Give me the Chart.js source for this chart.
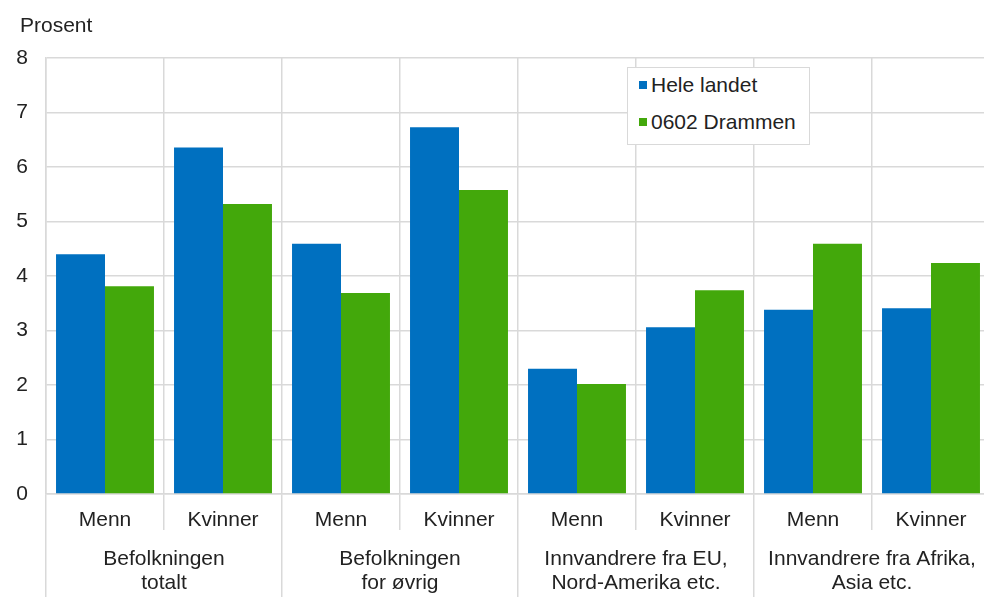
<!DOCTYPE html>
<html>
<head>
<meta charset="utf-8">
<script src="https://cdn.jsdelivr.net/npm/chart.js@4.4.1/dist/chart.umd.min.js"></script>
<style>
    html, body { margin: 0; padding: 0; background: #fff; overflow: hidden; }
    #wrap { position: relative; width: 1000px; height: 597px; }
    #ytitle {
        position: absolute; left: 20px; top: 12px; line-height: 26px;
        font-family: "Liberation Sans", Arial, sans-serif; font-size: 21px; color: #222;
    }
    #legend {
        position: absolute; left: 627px; top: 67px; width: 183px; height: 78px;
        border: 1px solid #d9d9d9; background: #fff; box-sizing: border-box;
        font-family: "Liberation Sans", Arial, sans-serif; font-size: 21px; color: #222;
    }
    #legend .item { position: absolute; left: 11px; display: flex; align-items: center; line-height: 24px; white-space: nowrap; }
    #legend .box { width: 8px; height: 8px; margin-right: 4px; }
</style>
</head>
<body>
<div id="wrap">
    <canvas id="chart" width="1000" height="597"></canvas>
    <div id="ytitle">Prosent</div>
    <div id="legend"></div>
</div>
<script>
// kategorier og verdier lest av figuren
const kjonn = ['Menn', 'Kvinner', 'Menn', 'Kvinner', 'Menn', 'Kvinner', 'Menn', 'Kvinner'];
const grupper = [
    ['Befolkningen', 'totalt'],
    ['Befolkningen', 'for øvrig'],
    ['Innvandrere fra EU,', 'Nord-Amerika etc.'],
    ['Innvandrere fra Afrika,', 'Asia etc.']
];
const seriesNames = ['Hele landet', '0602 Drammen'];
const heleLandet = [4.40, 6.36, 4.59, 6.73, 2.30, 3.06, 3.38, 3.41];
const drammen = [3.81, 5.32, 3.69, 5.58, 2.02, 3.74, 4.59, 4.24];
const yTicks = [0, 1, 2, 3, 4, 5, 6, 7, 8];

const colors = ['#0070c0', '#43a80b'];
const gridColor = '#d9d9d9';
const fontFamily = '"Liberation Sans", Arial, sans-serif';
const textColor = '#222';

const ctx = document.getElementById('chart').getContext('2d');
const chart = new Chart(ctx, {
    type: 'bar',
    data: {
        labels: kjonn,
        datasets: [
            { label: seriesNames[0], data: heleLandet, backgroundColor: colors[0] },
            { label: seriesNames[1], data: drammen, backgroundColor: colors[1] }
        ]
    },
    options: {
        responsive: false,
        animation: false,
        layout: { padding: { left: 0, right: 10, top: 58, bottom: 0 } },
        datasets: { bar: { categoryPercentage: 0.83, barPercentage: 1.0 } },
        plugins: {
            legend: { display: false },
            tooltip: { enabled: false }
        },
        scales: {
            y: {
                min: 0, max: 8,
                afterBuildTicks: (scale) => { scale.ticks = yTicks.map(v => ({ value: v })); },
                afterFit: (scale) => { scale.width = 46; },
                ticks: { color: textColor, padding: 18, font: { family: fontFamily, size: 21 } },
                grid: { color: gridColor, lineWidth: 1.5, drawTicks: false },
                border: { color: gridColor, width: 1.5 }
            },
            x: {
                weight: 0,
                afterFit: (scale) => { scale.height = 36; },
                ticks: { color: textColor, padding: -22, maxRotation: 0, autoSkip: false,
                         font: { family: fontFamily, size: 21 } },
                grid: { color: gridColor, lineWidth: 1.5, offset: true, tickLength: 36 },
                border: { color: gridColor, width: 1.5 }
            },
            x2: {
                type: 'category',
                position: 'bottom',
                weight: 1,
                labels: grupper,
                offset: true,
                afterFit: (scale) => { scale.height = 67; },
                ticks: { color: textColor, padding: -50, maxRotation: 0, autoSkip: false,
                         font: { family: fontFamily, size: 21, lineHeight: 24 / 21 } },
                grid: { color: gridColor, lineWidth: 1.5, offset: true, drawOnChartArea: false, tickLength: 67 },
                border: { display: false }
            }
        }
    }
});

// legendboks i plottområdet
const legendEl = document.getElementById('legend');
chart.data.datasets.forEach((ds, i) => {
    const item = document.createElement('div');
    item.className = 'item';
    item.style.top = (i === 0 ? 5 : 42) + 'px';
    item.innerHTML = '<span class="box" style="background:' + ds.backgroundColor + '"></span>' + ds.label;
    legendEl.appendChild(item);
});
</script>
</body>
</html>
